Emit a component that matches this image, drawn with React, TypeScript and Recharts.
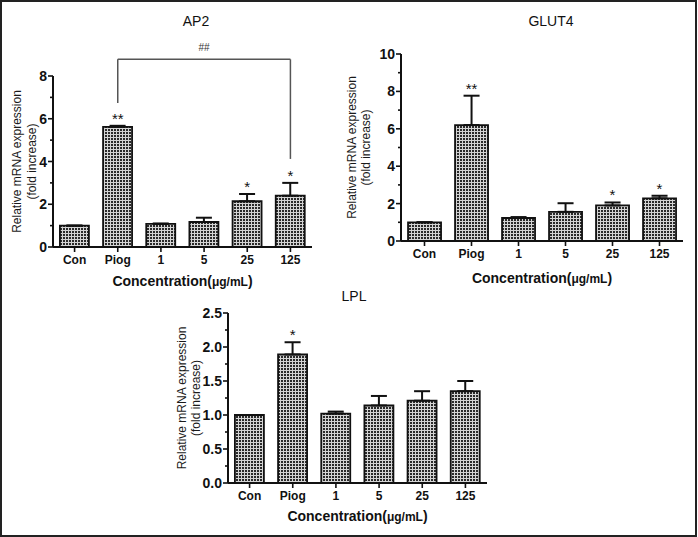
import React from "react";
import {
  BarChart,
  Bar,
  XAxis,
  YAxis,
  ErrorBar,
  ReferenceDot,
  ReferenceLine,
} from "recharts";

// shared categories (treatment groups)
const categories = ["Con", "Piog", "1", "5", "25", "125"];

// AP2
const ap2Values = [1.0, 5.62, 1.08, 1.17, 2.14, 2.4];
const ap2Errors = [0, 0.05, 0.02, 0.2, 0.34, 0.6];
const ap2Marks = ["", "**", "", "", "*", "*"];
const ap2Ticks = [0, 1, 2, 3, 4, 5, 6, 7, 8];
const ap2Majors = [0, 2, 4, 6, 8];

// GLUT4
const glut4Values = [1.0, 6.2, 1.23, 1.56, 1.9, 2.28];
const glut4Errors = [0, 1.57, 0.05, 0.46, 0.16, 0.14];
const glut4Marks = ["", "**", "", "", "*", "*"];
const glut4Ticks = [0, 1, 2, 3, 4, 5, 6, 7, 8, 9, 10];
const glut4Majors = [0, 2, 4, 6, 8, 10];

// LPL
const lplValues = [1.0, 1.89, 1.02, 1.14, 1.21, 1.35];
const lplErrors = [0, 0.18, 0.03, 0.14, 0.14, 0.15];
const lplMarks = ["", "*", "", "", "", ""];
const lplTicks = [0, 0.25, 0.5, 0.75, 1, 1.25, 1.5, 1.75, 2, 2.25, 2.5];
const lplMajors = [0, 0.5, 1, 1.5, 2, 2.5];

// AP2 "##" bracket (Piog vs 125), in data units
const bracketTop = 8.78;
const bracketPiogEnd = 6.74;
const bracket125End = 4.12;

const FONT = "'Liberation Sans', Arial, Helvetica, sans-serif";
const INK = "#111";
const TICK_SIZE = 5;
const TICK_MARGIN = 1;

function YTick(props: any) {
  const { x, y, payload, majors, decimals } = props;
  const axisX = x + TICK_SIZE + TICK_MARGIN;
  const isMajor = majors.some((m: number) => Math.abs(m - payload.value) < 1e-9);
  return (
    <g>
      <line
        x1={axisX}
        x2={axisX - (isMajor ? 5 : 3)}
        y1={y}
        y2={y}
        stroke={INK}
        strokeWidth={1.6}
      />
      {isMajor && (
        <text
          x={axisX - 6}
          y={y}
          dy="0.36em"
          textAnchor="end"
          fontSize={14}
          fontWeight="bold"
          fill={INK}
        >
          {Number(payload.value).toFixed(decimals)}
        </text>
      )}
    </g>
  );
}

function YTitle(props: any) {
  const { viewBox, line1X, line2X } = props;
  const cy = viewBox.y + viewBox.height / 2;
  const x1 = viewBox.x + line1X;
  const x2 = viewBox.x + line2X;
  return (
    <g fontSize={12} fill="#1a1a1a">
      <text
        x={x1}
        y={cy}
        transform={`rotate(-90 ${x1} ${cy})`}
        textAnchor="middle"
        dominantBaseline="central"
      >
        Relative mRNA expression
      </text>
      <text
        x={x2}
        y={cy}
        transform={`rotate(-90 ${x2} ${cy})`}
        textAnchor="middle"
        dominantBaseline="central"
      >
        (fold increase)
      </text>
    </g>
  );
}

function XTitle(props: any) {
  const { viewBox, below } = props;
  return (
    <text
      x={viewBox.x + viewBox.width / 2}
      y={viewBox.y + below}
      textAnchor="middle"
      fontSize={14}
      fontWeight="bold"
      fill={INK}
    >
      Concentration(
      <tspan fontSize={12}>μg/mL</tspan>)
    </text>
  );
}

interface PanelProps {
  id: string;
  values: number[];
  errors: number[];
  marks: string[];
  ticks: number[];
  majors: number[];
  decimals: number;
  left: number;
  top: number;
  width: number;
  height: number;
  margin: { top: number; right: number; bottom: number; left: number };
  yAxisWidth: number;
  xAxisHeight: number;
  gap: string;
  yTitleX: [number, number];
  xTitleBelow: number;
  extras?: React.ReactNode;
}

function Panel(p: PanelProps) {
  const data = categories.map((name, i) => ({
    name,
    value: p.values[i],
    err: [0, p.errors[i]],
    top: p.values[i] + p.errors[i],
    mark: p.marks[i],
  }));
  const patternId = `dots-${p.id}`;
  return (
    <div style={{ position: "absolute", left: p.left, top: p.top }}>
      <BarChart
        width={p.width}
        height={p.height}
        data={data}
        margin={p.margin}
        barCategoryGap={p.gap}
      >
        <defs>
          <pattern id={patternId} patternUnits="userSpaceOnUse" width={3} height={3}>
            <rect x={0} y={0} width={3} height={3} fill="#d4d4d4" />
            <rect x={0} y={0} width={2} height={2} fill="#2a2a2a" />
          </pattern>
        </defs>
        <XAxis
          dataKey="name"
          interval={0}
          height={p.xAxisHeight}
          tickSize={5}
          tickMargin={3}
          axisLine={{ stroke: INK, strokeWidth: 2 }}
          tickLine={{ stroke: INK, strokeWidth: 1.6 }}
          tick={{ fontSize: 12, fontWeight: "bold", fill: INK }}
          label={<XTitle below={p.xTitleBelow} />}
        />
        <YAxis
          type="number"
          domain={[p.ticks[0], p.ticks[p.ticks.length - 1]]}
          ticks={p.ticks}
          interval={0}
          width={p.yAxisWidth}
          tickSize={TICK_SIZE}
          tickMargin={TICK_MARGIN}
          axisLine={{ stroke: INK, strokeWidth: 2 }}
          tickLine={false}
          tick={(t: any) => <YTick {...t} majors={p.majors} decimals={p.decimals} />}
          label={<YTitle line1X={p.yTitleX[0]} line2X={p.yTitleX[1]} />}
        />
        <Bar
          dataKey="value"
          fill={`url(#${patternId})`}
          stroke={INK}
          strokeWidth={1.8}
          isAnimationActive={false}
        >
          <ErrorBar dataKey="err" width={8} stroke={INK} strokeWidth={2} direction="y" />
        </Bar>
        {data
          .filter((d) => d.mark)
          .map((d) => (
            <ReferenceDot
              key={d.name}
              x={d.name}
              y={d.top}
              r={0}
              fill="none"
              stroke="none"
              label={{
                value: d.mark,
                position: "top",
                offset: 2,
                fontSize: 15,
                fill: INK,
              }}
            />
          ))}
        {p.extras}
      </BarChart>
    </div>
  );
}

const bracketStyle = { stroke: "#555", strokeWidth: 1.5 };

const ap2Bracket = [
  <ReferenceLine
    key="b-top"
    segment={[
      { x: "Piog", y: bracketTop },
      { x: "125", y: bracketTop },
    ]}
    ifOverflow="visible"
    {...bracketStyle}
    label={{ value: "##", position: "top", offset: 8, fontSize: 10, fill: "#333" }}
  />,
  <ReferenceLine
    key="b-left"
    segment={[
      { x: "Piog", y: bracketTop },
      { x: "Piog", y: bracketPiogEnd },
    ]}
    ifOverflow="visible"
    {...bracketStyle}
  />,
  <ReferenceLine
    key="b-right"
    segment={[
      { x: "125", y: bracketTop },
      { x: "125", y: bracket125End },
    ]}
    ifOverflow="visible"
    {...bracketStyle}
  />,
];

function Title({ text, x, y }: { text: string; x: number; y: number }) {
  return (
    <div
      style={{
        position: "absolute",
        left: x,
        top: y,
        transform: "translate(-50%, -50%)",
        fontSize: 14,
        color: INK,
        whiteSpace: "nowrap",
      }}
    >
      {text}
    </div>
  );
}

export default function App() {
  return (
    <div
      style={{
        position: "absolute",
        left: 0,
        top: 0,
        width: 698,
        height: 537,
        background: "#fff",
        fontFamily: FONT,
      }}
    >
      <Panel
        id="ap2"
        values={ap2Values}
        errors={ap2Errors}
        marks={ap2Marks}
        ticks={ap2Ticks}
        majors={ap2Majors}
        decimals={0}
        left={0}
        top={0}
        width={330}
        height={300}
        margin={{ top: 76, right: 18, bottom: 0, left: 0 }}
        yAxisWidth={53}
        xAxisHeight={53}
        gap="16%"
        yTitleX={[17, 32]}
        xTitleBelow={39}
        extras={ap2Bracket}
      />
      <Panel
        id="glut4"
        values={glut4Values}
        errors={glut4Errors}
        marks={glut4Marks}
        ticks={glut4Ticks}
        majors={glut4Majors}
        decimals={0}
        left={340}
        top={0}
        width={358}
        height={300}
        margin={{ top: 54, right: 15, bottom: 0, left: 0 }}
        yAxisWidth={61}
        xAxisHeight={59}
        gap="15%"
        yTitleX={[12, 26]}
        xTitleBelow={42}
        extras={null}
      />
      <Panel
        id="lpl"
        values={lplValues}
        errors={lplErrors}
        marks={lplMarks}
        ticks={lplTicks}
        majors={lplMajors}
        decimals={1}
        left={170}
        top={290}
        width={340}
        height={247}
        margin={{ top: 23, right: 23, bottom: 0, left: 0 }}
        yAxisWidth={58}
        xAxisHeight={54}
        gap="16%"
        yTitleX={[12, 26]}
        xTitleBelow={38}
        extras={null}
      />
      <Title text="AP2" x={196} y={21} />
      <Title text="GLUT4" x={551} y={21} />
      <Title text="LPL" x={354} y={296} />
      <div
        style={{
          position: "absolute",
          left: 0,
          top: 0,
          width: 697,
          height: 537,
          border: "2px solid #222",
          boxSizing: "border-box",
          pointerEvents: "none",
        }}
      />
    </div>
  );
}
